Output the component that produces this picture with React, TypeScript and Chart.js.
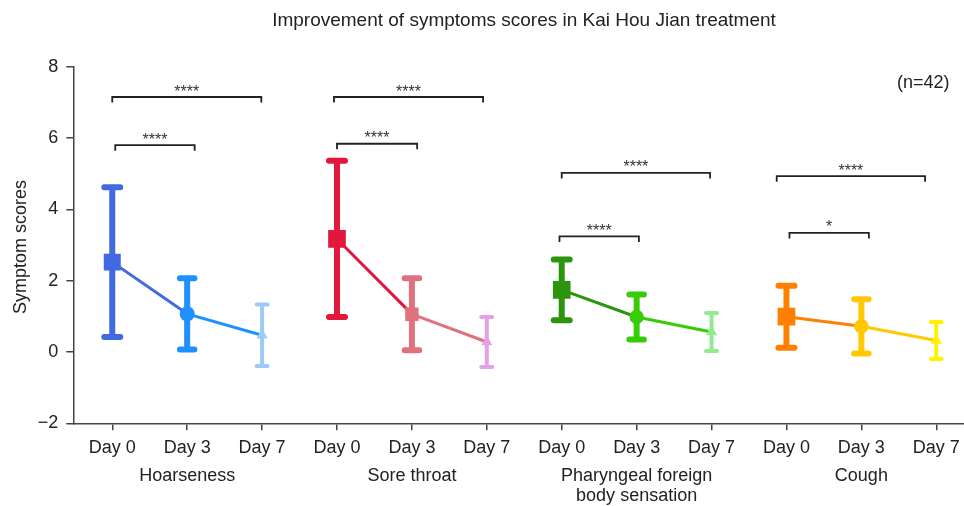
import React, { useEffect, useRef } from 'react';
import { Chart, registerables } from 'chart.js';

Chart.register(...registerables);

// ---------- data ----------
const titleText = 'Improvement of symptoms scores in Kai Hou Jian treatment';
const yTitle = 'Symptom scores';
const sampleNote = '(n=42)';
const dayLabels = ['Day 0', 'Day 3', 'Day 7'];
const groupNames = [['Hoarseness'], ['Sore throat'], ['Pharyngeal foreign', 'body sensation'], ['Cough']];
const xLabels = groupNames.flatMap(() => dayLabels);

const hoarsenessMean = [2.52, 1.07, 0.47];
const hoarsenessSD = [2.1, 1.0, 0.86];
const soreThroatMean = [3.17, 1.06, 0.28];
const soreThroatSD = [2.19, 1.01, 0.7];
const pharyngealMean = [1.74, 0.98, 0.56];
const pharyngealSD = [0.85, 0.63, 0.53];
const coughMean = [0.99, 0.72, 0.32];
const coughSD = [0.87, 0.76, 0.52];

const groupMeans = [hoarsenessMean, soreThroatMean, pharyngealMean, coughMean];
const groupSDs = [hoarsenessSD, soreThroatSD, pharyngealSD, coughSD];

// significance brackets (x in category units, y in score units)
const bracketFrom = [0, 0.04, 2.96, 3.0, 6.0, 5.97, 8.87, 9.04];
const bracketTo = [1.99, 1.1, 4.95, 4.07, 7.98, 7.03, 10.85, 10.1];
const bracketY = [7.15, 5.8, 7.15, 5.84, 5.02, 3.24, 4.93, 3.34];
const bracketMark = ['****', '****', '****', '****', '****', '****', '****', '*'];

// ---------- styles ----------
const FONT = '"Liberation Sans", Arial, Helvetica, sans-serif';
const groupColors = [
  ['#4169E1', '#1E90FF', '#9DCBF7'],
  ['#E3173B', '#E0717F', '#E5A0E6'],
  ['#2C940F', '#36CC06', '#93E98F'],
  ['#FF8000', '#FFC800', '#FFF200'],
];
const groupShapes = [
  ['rect', 'circle', 'triangle'],
  ['rect', 'rect', 'triangle'],
  ['rect', 'circle', 'triangle'],
  ['rect', 'circle', 'triangle'],
];
const groupRadii = [
  [12, 7.5, 6.5],
  [12.5, 9.5, 6.5],
  [12.5, 7.2, 6.5],
  [12.5, 7.2, 6.5],
];
const barWidth = [6, 6, 4];
const capLength = [22, 20.5, 15];

const errorBarPlugin = {
  id: 'errorBars',
  beforeDatasetsDraw(chart: any) {
    const { ctx, scales } = chart;
    const xs = scales.x;
    const ys = scales.y;
    ctx.save();
    ctx.lineCap = 'round';
    groupMeans.forEach((means, g) => {
      means.forEach((m, d) => {
        const px = xs.getPixelForValue(g * 3 + d);
        const top = ys.getPixelForValue(m + groupSDs[g][d]);
        const bot = ys.getPixelForValue(m - groupSDs[g][d]);
        const lw = barWidth[d];
        const h = (capLength[d] - lw) / 2;
        ctx.strokeStyle = groupColors[g][d];
        ctx.lineWidth = lw;
        ctx.beginPath();
        ctx.moveTo(px, top);
        ctx.lineTo(px, bot);
        ctx.moveTo(px - h, top);
        ctx.lineTo(px + h, top);
        ctx.moveTo(px - h, bot);
        ctx.lineTo(px + h, bot);
        ctx.stroke();
      });
    });
    ctx.restore();
  },
};

const annotationPlugin = {
  id: 'annotations',
  afterDraw(chart: any) {
    const { ctx, scales } = chart;
    const xs = scales.x;
    const ys = scales.y;
    ctx.save();
    ctx.fillStyle = '#222';
    // title
    ctx.font = `19px ${FONT}`;
    ctx.textAlign = 'center';
    ctx.textBaseline = 'alphabetic';
    ctx.fillText(titleText, 524, 26);
    // n note
    ctx.font = `18px ${FONT}`;
    ctx.textAlign = 'right';
    ctx.fillText(sampleNote, 949.5, 88);
    // group labels
    ctx.textAlign = 'center';
    groupNames.forEach((lines, g) => {
      const px = xs.getPixelForValue(g * 3 + 1);
      lines.forEach((ln, i) => ctx.fillText(ln, px, 481 + i * 19.5));
    });
    // y title
    ctx.save();
    ctx.translate(21, 247);
    ctx.rotate(-Math.PI / 2);
    ctx.textBaseline = 'middle';
    ctx.fillText(yTitle, 0, 0);
    ctx.restore();
    // brackets
    ctx.strokeStyle = '#222';
    ctx.lineWidth = 1.8;
    ctx.lineCap = 'butt';
    bracketFrom.forEach((x0, i) => {
      const a = xs.getPixelForValue(x0);
      const b = xs.getPixelForValue(bracketTo[i]);
      const yy = ys.getPixelForValue(bracketY[i]);
      ctx.beginPath();
      ctx.moveTo(a, yy + 5.5);
      ctx.lineTo(a, yy);
      ctx.lineTo(b, yy);
      ctx.lineTo(b, yy + 5.5);
      ctx.stroke();
      ctx.font = `16px ${FONT}`;
      ctx.fillStyle = '#333';
      ctx.textAlign = 'center';
      ctx.textBaseline = 'alphabetic';
      ctx.fillText(bracketMark[i], (a + b) / 2, yy - 0.5);
    });
    ctx.restore();
  },
};

export default function App() {
  const ref = useRef<HTMLCanvasElement | null>(null);
  useEffect(() => {
    if (!ref.current) return;
    const datasets = groupMeans.map((means, g) => ({
      type: 'line' as const,
      data: means.map((m, d) => ({ x: g * 3 + d, y: m })),
      borderWidth: 3,
      borderColor: groupColors[g][0],
      segment: { borderColor: (c: any) => groupColors[g][c.p0DataIndex] },
      pointStyle: groupShapes[g] as any,
      pointRadius: groupRadii[g],
      pointBackgroundColor: groupColors[g],
      pointBorderColor: groupColors[g],
      pointBorderWidth: 0,
      tension: 0,
      fill: false,
    }));
    const chart = new Chart(ref.current, {
      type: 'line',
      data: { datasets },
      options: {
        animation: false,
        responsive: false,
        events: [],
        layout: { autoPadding: false, padding: { top: 66.7, left: 0, right: 0, bottom: 0 } },
        plugins: { legend: { display: false }, tooltip: { enabled: false }, title: { display: false } },
        scales: {
          x: {
            type: 'linear',
            min: -0.52,
            max: 11.37,
            afterBuildTicks: (s: any) => {
              s.ticks = xLabels.map((_, i) => ({ value: i }));
            },
            afterFit: (s: any) => {
              s.height = 82.7;
              s.paddingLeft = 0;
              s.paddingRight = 0;
            },
            ticks: {
              autoSkip: false,
              maxRotation: 0,
              padding: 7,
              color: '#222',
              font: { family: FONT, size: 18 },
              callback: (v: any) => xLabels[Math.round(v)],
            },
            grid: { drawOnChartArea: false, drawTicks: true, tickLength: 7, color: '#444', lineWidth: 1.5 },
            border: { display: true, color: '#444', width: 1.5 },
          },
          y: {
            type: 'linear',
            min: -2,
            max: 8,
            afterFit: (s: any) => {
              s.width = 73.3;
              s.paddingTop = 0;
              s.paddingBottom = 0;
            },
            ticks: {
              stepSize: 2,
              padding: 8,
              color: '#222',
              font: { family: FONT, size: 18 },
              callback: (v: any) => (v < 0 ? '\u2212' + Math.abs(v) : String(v)),
            },
            grid: { drawOnChartArea: false, drawTicks: true, tickLength: 7, color: '#444', lineWidth: 1.5 },
            border: { display: true, color: '#444', width: 1.5 },
          },
        },
      },
      plugins: [errorBarPlugin, annotationPlugin],
    });
    return () => chart.destroy();
  }, []);
  return (
    <div style={{ position: 'fixed', left: 0, top: 0, width: 964, height: 506, background: '#fff' }}>
      <canvas ref={ref} width={964} height={506} />
    </div>
  );
}
